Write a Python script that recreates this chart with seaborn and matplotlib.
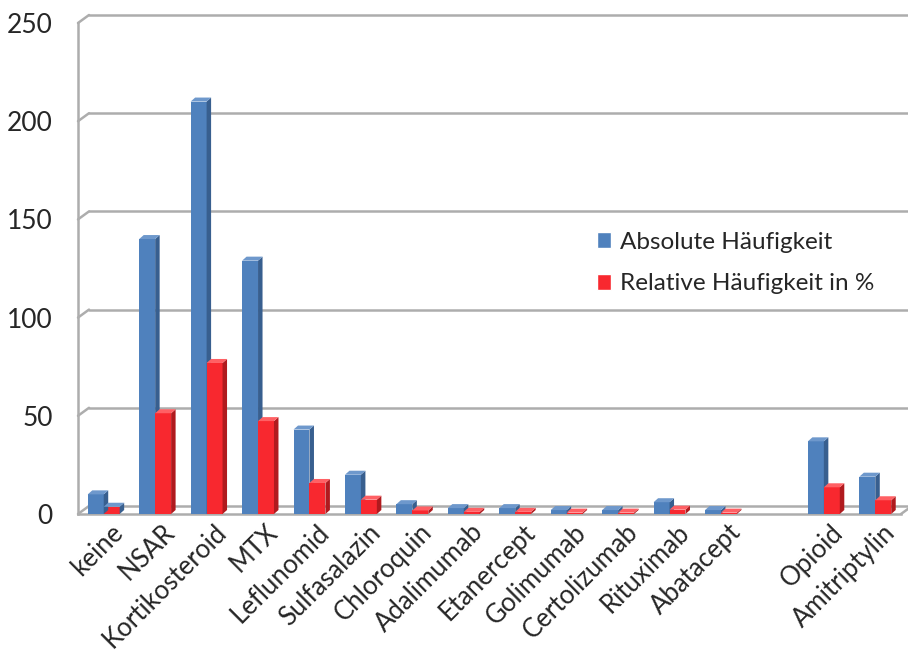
import numpy as np
import pandas as pd
import seaborn as sns
import matplotlib.pyplot as plt
from matplotlib.patches import Polygon
from matplotlib.transforms import ScaledTranslation

# Werte
categories = ["keine", "NSAR", "Kortikosteroid", "MTX", "Leflunomid", "Sulfasalazin",
              "Chloroquin", "Adalimumab", "Etanercept", "Golimumab", "Certolizumab",
              "Rituximab", "Abatacept", "", "Opioid", "Amitriptylin"]
absolute = [10, 140, 210, 129, 43, 20, 5, 3, 3, 2, 2, 6, 2, np.nan, 37, 19]
relative = [3.7, 51.3, 76.9, 47.3, 15.8, 7.3, 1.8, 1.1, 1.1, 0.7, 0.7, 2.2, 0.7, np.nan, 13.6, 7.0]
series = ["Absolute Häufigkeit", "Relative Häufigkeit in %"]
yticks = [0, 50, 100, 150, 200, 250]

face = ["#4F81BD", "#F8282F"]
side = ["#385F8F", "#B01A1E"]
top = ["#6E98CC", "#FF6064"]
grid_color = "#ADADAD"

sns.set_style("white")
plt.rcParams['font.family'] = ['Lato', 'DejaVu Sans']

df = pd.DataFrame({
    "Medikament": categories * 2,
    "Serie": [series[0]] * len(categories) + [series[1]] * len(categories),
    "Wert": absolute + relative,
})

fig = plt.figure(figsize=(9.08, 6.56), dpi=100)
left, right, bottom, top_edge = 78 / 908, 901 / 908, (656 - 514) / 656, (656 - 23) / 656
ax = fig.add_axes([left, bottom, right - left, top_edge - bottom])

sns.barplot(data=df, x="Medikament", y="Wert", hue="Serie", order=categories,
            hue_order=series, palette=face, width=0.62, saturation=1,
            errorbar=None, ax=ax)

n = len(categories)
ax.set_xlim(-0.5, n - 0.5)
ax.set_ylim(0, 250)

# Pixel -> Datenumrechnung fuer den 3D-Effekt
ax_w_px = (right - left) * 908
ax_h_px = (top_edge - bottom) * 656
px_x = n / ax_w_px
px_y = 250 / ax_h_px
bdx, bdy = 4.5 * px_x, 4 * px_y

bars = [p for p in ax.patches if hasattr(p, "get_height")][:2 * n]
for i, p in enumerate(bars):
    s = i // n
    h = p.get_height()
    if not np.isfinite(h) or h <= 0:
        continue
    x0 = p.get_x()
    x1 = x0 + p.get_width()
    z = 3 + 2 * s
    p.set_zorder(z)
    p.set_edgecolor("none")
    ax.add_patch(Polygon([(x1, 0), (x1 + bdx, bdy), (x1 + bdx, h + bdy), (x1, h)],
                         closed=True, facecolor=side[s], edgecolor="none", zorder=z + 0.5))
    ax.add_patch(Polygon([(x0, h), (x0 + bdx, h + bdy), (x1 + bdx, h + bdy), (x1, h)],
                         closed=True, facecolor=top[s], edgecolor="none", zorder=z + 0.5))

# Rueckwand mit Gitterlinien
wdx, wdy = 11 / 100, 8 / 100
back = ax.transData + ScaledTranslation(wdx, wdy, fig.dpi_scale_trans)
for v in yticks:
    ax.plot([-0.5, n - 0.5], [v, v], transform=back, color=grid_color, lw=1.8,
            clip_on=False, zorder=1)
    ax.plot([-0.5, -0.5 + wdx * 100 * px_x], [v, v + wdy * 100 * px_y],
            color=grid_color, lw=1.8, clip_on=False, zorder=1)
ax.plot([n - 0.5, n - 0.5 + wdx * 100 * px_x], [0, wdy * 100 * px_y],
        color=grid_color, lw=1.8, clip_on=False, zorder=1)

sns.despine(ax=ax, top=True, right=True)
for sp in ["left", "bottom"]:
    ax.spines[sp].set_color(grid_color)
    ax.spines[sp].set_linewidth(1.8)

ax.set_yticks(yticks)
ax.set_yticklabels([str(v) for v in yticks], fontsize=19)
ax.tick_params(axis="y", length=0, pad=18)
ax.tick_params(axis="x", length=0, pad=4)
ax.set_xticks(range(n))
ax.set_xticklabels(categories, fontsize=18.5, rotation=45, ha="right",
                   va="top", rotation_mode="anchor")
shift = ScaledTranslation(7 / 100, 0, fig.dpi_scale_trans)
for lab in ax.get_xticklabels():
    lab.set_transform(lab.get_transform() + shift)
ax.set_xlabel("")
ax.set_ylabel("")

ax.legend(loc="upper left", bbox_to_anchor=(587 / 908, (656 - 222) / 656),
          bbox_transform=fig.transFigure, frameon=False, fontsize=17.5,
          handlelength=0.6, handleheight=0.6, handletextpad=0.35,
          labelspacing=0.85, borderaxespad=0)

fig.savefig("out.png", dpi=100)
